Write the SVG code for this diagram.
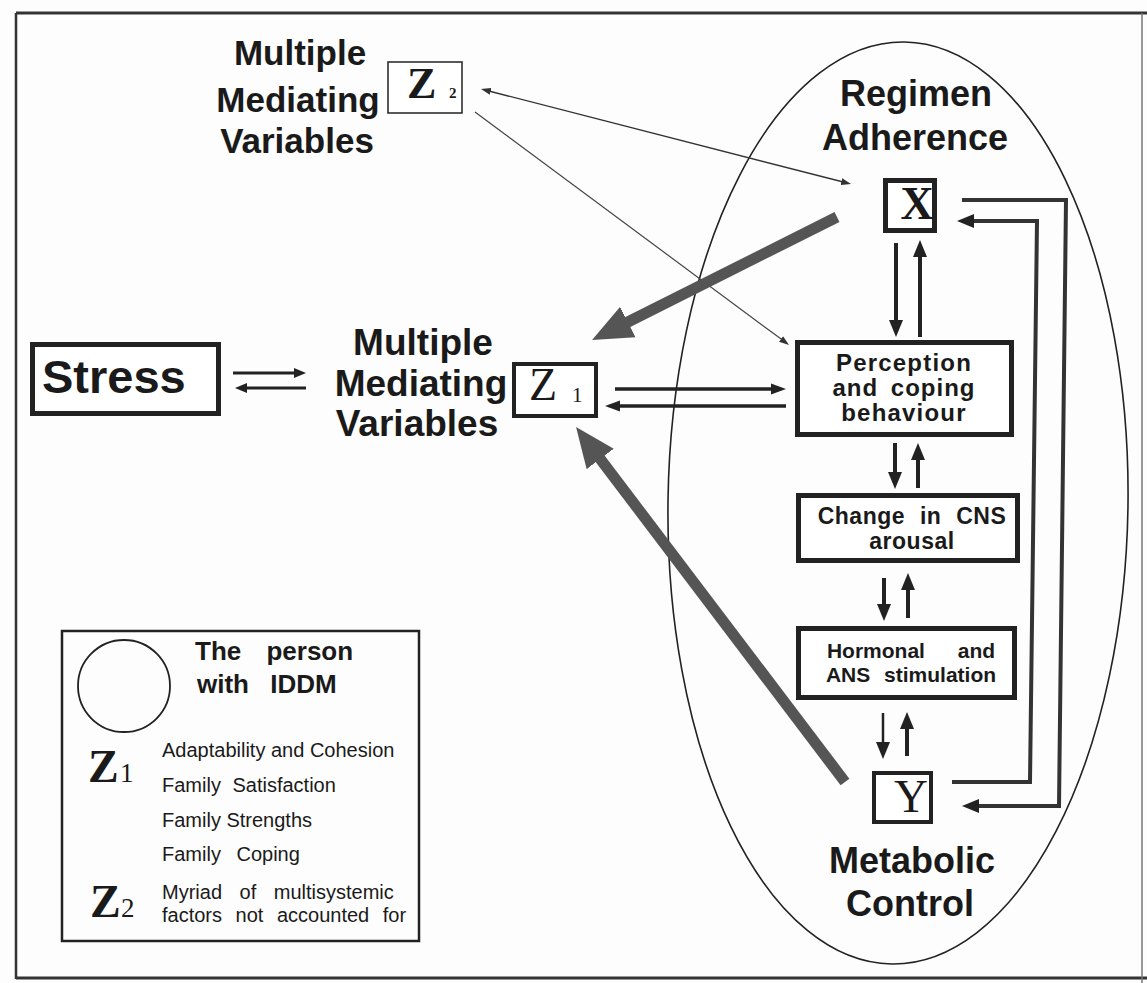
<svg xmlns="http://www.w3.org/2000/svg" width="1147" height="983" viewBox="0 0 1147 983">
  <defs>
    <style>
      .sans{font-family:"Liberation Sans",Arial,Helvetica,sans-serif;fill:#1a1a1a}
      .big{font-size:36px;font-weight:bold;text-anchor:middle}
      .mid{font-size:24px;font-weight:bold;text-anchor:middle}
      .leg{font-size:20px}
      .ser{font-family:"Liberation Serif","Times New Roman",serif;fill:#1a1a1a}
      .box{fill:#fff;stroke:#222}
      .ln{fill:none;stroke:#222;stroke-linecap:butt;stroke-linejoin:miter}
    </style>
    <!-- arrowheads, drawn at 1:1 user scale; refX sits at the base so lines stop short of the tip -->
    <marker id="ah" markerUnits="userSpaceOnUse" markerWidth="18" markerHeight="16" viewBox="0 -8 18 16" refX="1" refY="0" orient="auto">
      <path d="M0,-7 L17,0 L0,7 z" fill="#222"/>
    </marker>
    <marker id="ahh" markerUnits="userSpaceOnUse" markerWidth="16" markerHeight="12" viewBox="0 -6 16 12" refX="1" refY="0" orient="auto">
      <path d="M0,-5.5 L15,0 L0,5.5 z" fill="#222"/>
    </marker>
    <marker id="ahs" markerUnits="userSpaceOnUse" markerWidth="13" markerHeight="12" viewBox="0 -6 13 12" refX="1" refY="0" orient="auto">
      <path d="M0,-5 L12,0 L0,5 z" fill="#222"/>
    </marker>
    <marker id="aht" markerUnits="userSpaceOnUse" markerWidth="11" markerHeight="8" viewBox="0 -4 11 8" refX="1" refY="0" orient="auto-start-reverse">
      <path d="M0,-3.5 L10,0 L0,3.5 z" fill="#333"/>
    </marker>
    <marker id="ahg" markerUnits="userSpaceOnUse" markerWidth="41" markerHeight="36" viewBox="0 -18 41 36" refX="1" refY="0" orient="auto">
      <path d="M0,-17 L40,0 L0,17 z" fill="#555"/>
    </marker>
  </defs>

  <rect width="1147" height="983" fill="#fdfdfd"/>

  <!-- page frame -->
  <g id="frame" fill="none">
    <path d="M16,13 H1147" stroke="#333" stroke-width="3"/>
    <path d="M16,13 V979" stroke="#333" stroke-width="2.5"/>
    <path d="M16,978 H1147" stroke="#333" stroke-width="3"/>
    <path d="M1142,13 V983" stroke="#777" stroke-width="1.5"/>
  </g>

  <!-- the person with IDDM -->
  <g id="person">
    <ellipse cx="898" cy="503" rx="230" ry="461" transform="rotate(0.8 898 503)" fill="none" stroke="#222" stroke-width="1.6"/>
  </g>

  <!-- connectors -->
  <g id="connectors" class="ln">
    <!-- Stress <-> Z1 -->
    <path d="M233,373 H295" stroke-width="3" marker-end="url(#ahs)"/>
    <path d="M306,388 H246" stroke-width="3" marker-end="url(#ahs)"/>
    <!-- Z1 <-> Perception -->
    <path d="M615,389 H772" stroke-width="3.5" marker-end="url(#ahh)"/>
    <path d="M786,406 H619" stroke-width="3.5" marker-end="url(#ahh)"/>
    <!-- X <-> Perception -->
    <path d="M896,243 V321" stroke-width="4" marker-end="url(#ah)"/>
    <path d="M920,337 V256" stroke-width="4" marker-end="url(#ah)"/>
    <!-- Perception <-> CNS -->
    <path d="M895,443 V473" stroke-width="4" marker-end="url(#ah)"/>
    <path d="M918,488 V459" stroke-width="4" marker-end="url(#ah)"/>
    <!-- CNS <-> Hormonal -->
    <path d="M884,578 V605" stroke-width="4" marker-end="url(#ah)"/>
    <path d="M908,618 V589" stroke-width="4" marker-end="url(#ah)"/>
    <!-- Hormonal <-> Y -->
    <path d="M883,713 V743" stroke-width="2.5" marker-end="url(#ah)"/>
    <path d="M907,756 V728" stroke-width="4" marker-end="url(#ah)"/>
    <!-- feedback loops between X and Y -->
    <path d="M962,200 L1066,200 L1059,806 L978,806" stroke="#333" stroke-width="4" marker-end="url(#ah)"/>
    <path d="M952,782 L1030,782 L1037,221 L973,221" stroke="#333" stroke-width="4" marker-end="url(#ah)"/>
    <!-- Z2 links -->
    <path d="M489.7,91.2 L842.3,181.8" stroke="#333" stroke-width="1.4" marker-start="url(#aht)" marker-end="url(#aht)"/>
    <path d="M475,112 L781.8,339.6" stroke="#444" stroke-width="1.2" marker-end="url(#aht)"/>
    <!-- heavy paths into Z1 -->
    <path d="M837,217 L626.9,322.5" stroke="#555" stroke-width="11" marker-end="url(#ahg)"/>
    <path d="M845,782 L599.6,458.1" stroke="#555" stroke-width="11" marker-end="url(#ahg)"/>
  </g>

  <!-- Stress -->
  <g id="stress">
    <rect class="box" x="32.5" y="344.5" width="186" height="69" stroke-width="5"/>
    <text class="sans" x="42" y="393" font-size="47" font-weight="bold">Stress</text>
  </g>

  <!-- Z1: multiple mediating variables -->
  <g id="z1">
    <text class="sans big" x="423" y="355" style="font-size:37px">Multiple</text>
    <text class="sans big" x="421" y="396" style="font-size:37px">Mediating</text>
    <text class="sans big" x="417" y="436" style="font-size:37px">Variables</text>
    <rect class="box" x="514" y="364" width="82" height="52" stroke-width="4"/>
    <text class="ser" x="529" y="400" font-size="46">Z</text>
    <text class="ser" x="572" y="402" font-size="21">1</text>
  </g>

  <!-- Z2: multiple mediating variables -->
  <g id="z2">
    <text class="sans big" x="300" y="65" style="font-size:35px">Multiple</text>
    <text class="sans big" x="298" y="112" style="font-size:35px">Mediating</text>
    <text class="sans big" x="297" y="153" style="font-size:35px">Variables</text>
    <rect class="box" x="388" y="62" width="74" height="51" stroke="#555" stroke-width="1.5"/>
    <text class="ser" x="407" y="98" font-size="44" font-weight="bold">Z</text>
    <text class="ser" x="449" y="98" font-size="15" font-weight="bold">2</text>
  </g>

  <!-- X: regimen adherence -->
  <g id="x-adherence">
    <text class="sans big" x="916" y="106">Regimen</text>
    <text class="sans big" x="915" y="150">Adherence</text>
    <rect class="box" x="885.5" y="180.5" width="49" height="50" stroke-width="5"/>
    <text class="ser" x="917" y="219" font-size="46" font-weight="bold" text-anchor="middle">X</text>
  </g>

  <!-- Perception and coping behaviour -->
  <g id="perception">
    <rect class="box" x="797.5" y="342.5" width="214" height="92" stroke-width="5"/>
    <text class="sans mid" x="904" y="371" letter-spacing="1.2">Perception</text>
    <text class="sans mid" x="904" y="396" letter-spacing="1" word-spacing="5">and coping</text>
    <text class="sans mid" x="904" y="421" letter-spacing="1.2">behaviour</text>
  </g>

  <!-- Change in CNS arousal -->
  <g id="cns">
    <rect class="box" x="798.5" y="495.5" width="219" height="65" stroke-width="5"/>
    <text class="sans mid" x="912" y="524" style="font-size:23px" letter-spacing="0.5" word-spacing="8">Change in CNS</text>
    <text class="sans mid" x="912" y="549" style="font-size:23px" letter-spacing="0.5">arousal</text>
  </g>

  <!-- Hormonal and ANS stimulation -->
  <g id="hormonal">
    <rect class="box" x="798.5" y="628.5" width="216" height="69" stroke-width="5"/>
    <text class="sans mid" x="911" y="658" style="font-size:21px" word-spacing="27">Hormonal and</text>
    <text class="sans mid" x="911" y="682" style="font-size:21px" word-spacing="8">ANS stimulation</text>
  </g>

  <!-- Y: metabolic control -->
  <g id="y-metabolic">
    <rect class="box" x="874" y="773" width="57" height="49" stroke-width="4"/>
    <text class="ser" x="911" y="812" font-size="47" text-anchor="middle">Y</text>
    <text class="sans big" x="912" y="873">Metabolic</text>
    <text class="sans big" x="910" y="916">Control</text>
  </g>

  <!-- key -->
  <g id="legend">
    <rect x="62" y="631" width="357" height="310" fill="none" stroke="#222" stroke-width="2.5"/>
    <circle cx="124" cy="686" r="46" fill="none" stroke="#222" stroke-width="1.8"/>
    <text class="sans" x="195" y="660" font-size="26" font-weight="bold" word-spacing="18">The person</text>
    <text class="sans" x="197" y="693" font-size="26" font-weight="bold" word-spacing="14">with IDDM</text>
    <text class="ser" x="88" y="782" font-size="46" font-weight="bold">Z</text>
    <text class="ser" x="120" y="782" font-size="27">1</text>
    <text class="sans leg" x="162" y="757">Adaptability and Cohesion</text>
    <text class="sans leg" x="162" y="792" word-spacing="6">Family Satisfaction</text>
    <text class="sans leg" x="162" y="827">Family Strengths</text>
    <text class="sans leg" x="162" y="861" word-spacing="10">Family Coping</text>
    <text class="ser" x="90" y="917" font-size="46" font-weight="bold">Z</text>
    <text class="ser" x="121" y="917" font-size="27">2</text>
    <text class="sans leg" x="162" y="899" word-spacing="12">Myriad of multisystemic</text>
    <text class="sans leg" x="162" y="922" word-spacing="8">factors not accounted for</text>
  </g>
</svg>
